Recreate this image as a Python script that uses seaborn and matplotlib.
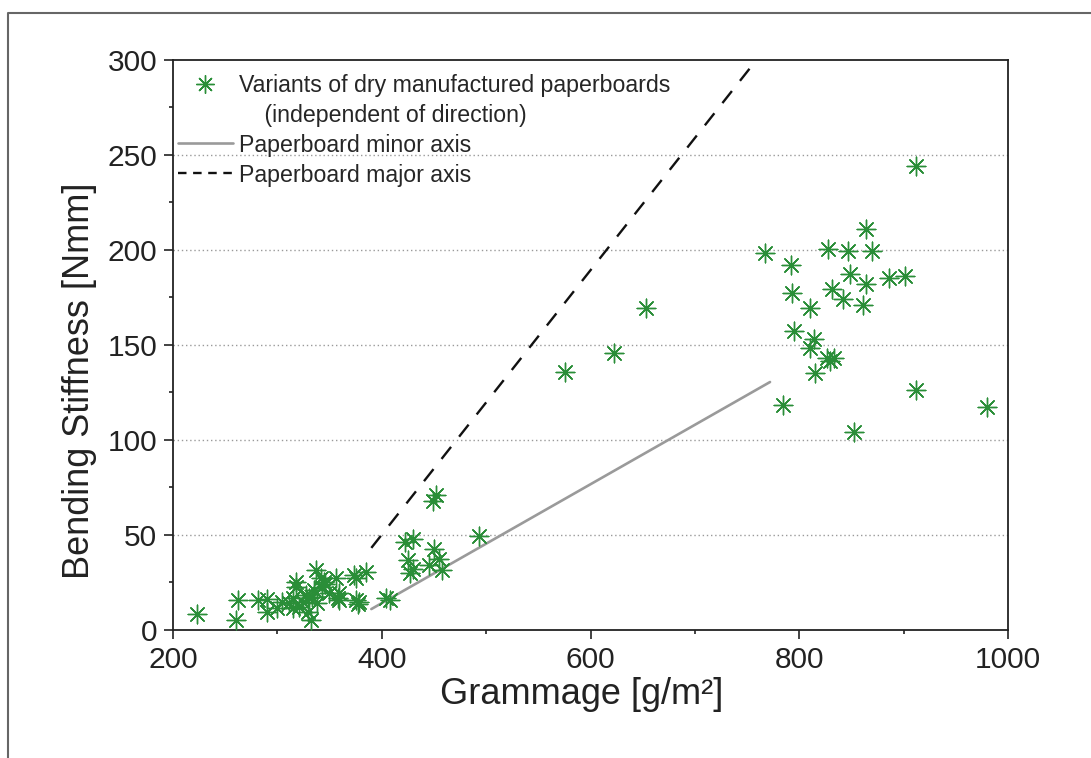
import matplotlib

matplotlib.use("Agg")

import matplotlib.pyplot as plt
import seaborn as sns
from matplotlib.lines import Line2D
from matplotlib.ticker import MultipleLocator


# dry manufactured paperboard variants
GRAMMAGE = [
    911.6, 863.8, 767.0, 828.0, 846.8, 869.8, 792.5, 848.5, 864.4, 886.0,
    901.8, 793.4, 831.7, 841.9, 861.0, 810.7, 794.7, 813.9, 810.7, 826.7,
    833.4, 829.3, 814.9, 911.6, 784.8, 980.1, 852.0,
    653.4, 622.4, 576.0, 452.0, 449.0, 492.9, 422.5, 430.2, 450.4, 454.5,
    424.7, 444.9, 430.2, 427.0, 457.6, 404.0, 408.0,
    223.0, 262.7, 260.0, 281.8, 290.5, 290.5, 304.8, 311.3, 314.5, 317.7,
    314.5, 320.9, 324.1, 327.3, 328.9, 333.6, 335.3, 331.9, 338.4, 336.9,
    344.8, 341.6, 343.2, 349.6, 356.0, 359.2, 359.2, 375.2, 373.6, 384.8,
    375.2, 378.4, 376.8, 357.6, 330.5, 300.0, 317.7, 345.8,
]
STIFFNESS = [
    244.2, 211.0, 198.3, 200.4, 199.5, 199.5, 192.1, 187.2, 182.1, 185.4,
    186.3, 177.2, 179.3, 174.0, 171.0, 169.3, 157.2, 153.0, 148.3, 143.0,
    143.0, 141.6, 135.1, 126.3, 118.3, 117.2, 104.2,
    169.3, 146.0, 136.0, 71.0, 68.0, 49.5, 46.5, 47.7, 42.5, 37.2,
    36.8, 34.2, 31.9, 30.2, 31.6, 16.7, 15.8,
    8.4, 15.8, 5.3, 15.8, 16.2, 9.6, 14.9, 14.0, 16.7, 22.8,
    11.4, 12.3, 14.9, 18.4, 9.6, 17.5, 21.0, 5.3, 14.0, 31.5,
    25.4, 27.2, 22.8, 19.3, 27.2, 19.3, 15.8, 27.2, 28.9, 30.7,
    15.8, 14.9, 13.5, 16.7, 16.7, 11.4, 25.1, 24.0,
]

# model lines (start / end)
MINOR_X = [390, 772]
MINOR_Y = [11, 130.5]
MAJOR_X = [390, 759]
MAJOR_Y = [43.2, 300]

GREEN = "#2a8e38"
GREY = "#9a9a9a"
INK = "#222222"

sns.set_theme(style="ticks")
plt.rcParams["font.family"] = ["Liberation Sans", "DejaVu Sans"]

fig = plt.figure(figsize=(10.91, 7.58), dpi=100)
ax = fig.add_axes([0.1586, 0.1689, 0.7653, 0.752])

star = (8, 2, 0)
sns.scatterplot(x=GRAMMAGE, y=STIFFNESS, marker=star, s=180, color=GREEN,
                linewidth=1.0, ax=ax, zorder=3, legend=False)
sns.lineplot(x=MINOR_X, y=MINOR_Y, color=GREY, linewidth=1.9, ax=ax, zorder=2)
sns.lineplot(x=MAJOR_X, y=MAJOR_Y, color="#111111", linewidth=1.7,
             linestyle=(0, (6.5, 5.5)), ax=ax, zorder=2)

ax.set_xlim(200, 1000)
ax.set_ylim(0, 300)
ax.xaxis.set_major_locator(MultipleLocator(200))
ax.xaxis.set_minor_locator(MultipleLocator(100))
ax.yaxis.set_major_locator(MultipleLocator(50))
ax.yaxis.set_minor_locator(MultipleLocator(25))

for y in [50, 100, 150, 200, 250]:
    ax.axhline(y, color=GREY, linestyle=(0, (1, 2)), linewidth=1.0, zorder=1)

for side in ["top", "right", "left", "bottom"]:
    ax.spines[side].set_visible(True)
    ax.spines[side].set_color(INK)
    ax.spines[side].set_linewidth(1.3)

ax.tick_params(which="major", direction="out", length=6.5, width=1.2,
               labelsize=21.5, pad=5, colors=INK)
ax.tick_params(which="minor", direction="out", length=3, width=1.2, colors=INK)
ax.tick_params(top=False, right=False, which="both")

ax.set_xlabel("Grammage [g/m²]", fontsize=26, color=INK)
ax.set_ylabel("Bending Stiffness [Nmm]", fontsize=26, color=INK)
ax.xaxis.set_label_coords(0.489, -0.082)
ax.yaxis.set_label_coords(-0.091, 0.437)

handles = [
    Line2D([], [], marker=star, markersize=13, linestyle="none",
           markeredgecolor=GREEN, markeredgewidth=1.0),
    Line2D([], [], linestyle="none"),
    Line2D([], [], color=GREY, linewidth=1.9),
    Line2D([], [], color="#111111", linewidth=1.7, linestyle=(0, (3.6, 2.8))),
]
labels = [
    "Variants of dry manufactured paperboards",
    "    (independent of direction)",
    "Paperboard minor axis",
    "Paperboard major axis",
]
ax.legend(handles=handles, labels=labels, loc="upper left", frameon=False,
          fontsize=16.7, handlelength=2.35, handletextpad=0.28, labelspacing=0.3,
          borderaxespad=0.0, borderpad=0.0, bbox_to_anchor=(0.006, 0.976))

# outer frame of the original figure (top and left edge)
fig.add_artist(Line2D([8 / 1091, 8 / 1091, 1.0], [0.0, 1 - 13 / 758, 1 - 13 / 758],
                      transform=fig.transFigure, color="#666666", linewidth=1.5))

fig.savefig("out.png", dpi=100)
